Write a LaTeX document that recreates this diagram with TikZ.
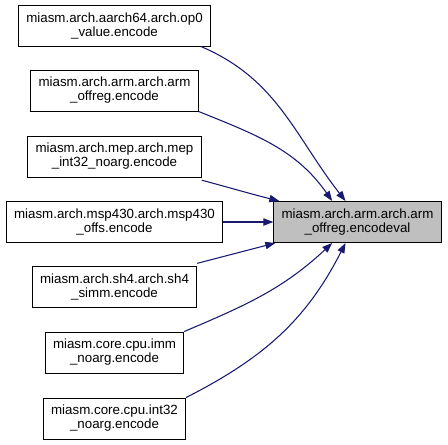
\documentclass[tikz,border=0pt]{standalone}
\usepackage{fontspec}
\setmainfont{Liberation Sans}
\usetikzlibrary{arrows.meta}
\definecolor{edgeblue}{HTML}{191970}
\definecolor{hitgray}{HTML}{BFBFBF}
\begin{document}
\begin{tikzpicture}[x=0.75pt, y=-0.75pt,
    box/.style={draw=black, fill=white, align=center, line width=0.75pt,
        font=\fontsize{10}{10.5}\selectfont, inner xsep=5.8pt, minimum height=30.75pt},
    hit/.style={box, fill=hitgray},
    call/.style={edgeblue, line width=0.8pt, -{Triangle[length=7.5pt,width=5.5pt]}}]
    \useasboundingbox (0,0) rectangle (448,444);
    \node[hit] (encval) at (357.5,222) {miasm.arch.arm.arch.arm\\\_offreg.encodeval};
    \node[box] (aarch) at (114.5,25.5) {miasm.arch.aarch64.arch.op0\\\_value.encode};
    \node[box] (armoff) at (114.5,90.5) {miasm.arch.arm.arch.arm\\\_offreg.encode};
    \node[box] (mep) at (114.5,156.5) {miasm.arch.mep.arch.mep\\\_int32\_noarg.encode};
    \node[box] (msp) at (114.5,222) {miasm.arch.msp430.arch.msp430\\\_offs.encode};
    \node[box] (sh) at (114.5,287) {miasm.arch.sh4.arch.sh4\\\_simm.encode};
    \node[box] (imm) at (114.5,352.5) {miasm.core.cpu.imm\\\_noarg.encode};
    \node[box] (int) at (114.5,418.5) {miasm.core.cpu.int32\\\_noarg.encode};
    % callers above
    \draw[call] ([xshift=-7.5pt]aarch.south east) to[out=-23, in=128] ([xshift=-9pt]encval.north);
    \draw[call] (armoff.south east) to[out=-22, in=125] ([xshift=-19pt]encval.north);
    \draw[call] ([yshift=-2pt]mep.south east) to[out=-15, in=166] ([xshift=4.5pt]encval.north west);
    \draw[call] (msp) -- (encval);
    % callers below
    \draw[call] ([yshift=2pt]sh.north east) -- ([xshift=1.5pt]encval.south west);
    \draw[call] (imm.north east) to[out=23, in=-137] ([xshift=-19pt]encval.south);
    \draw[call] (int.north east) to[out=27, in=-117] ([xshift=-9pt]encval.south);
\end{tikzpicture}
\end{document}
